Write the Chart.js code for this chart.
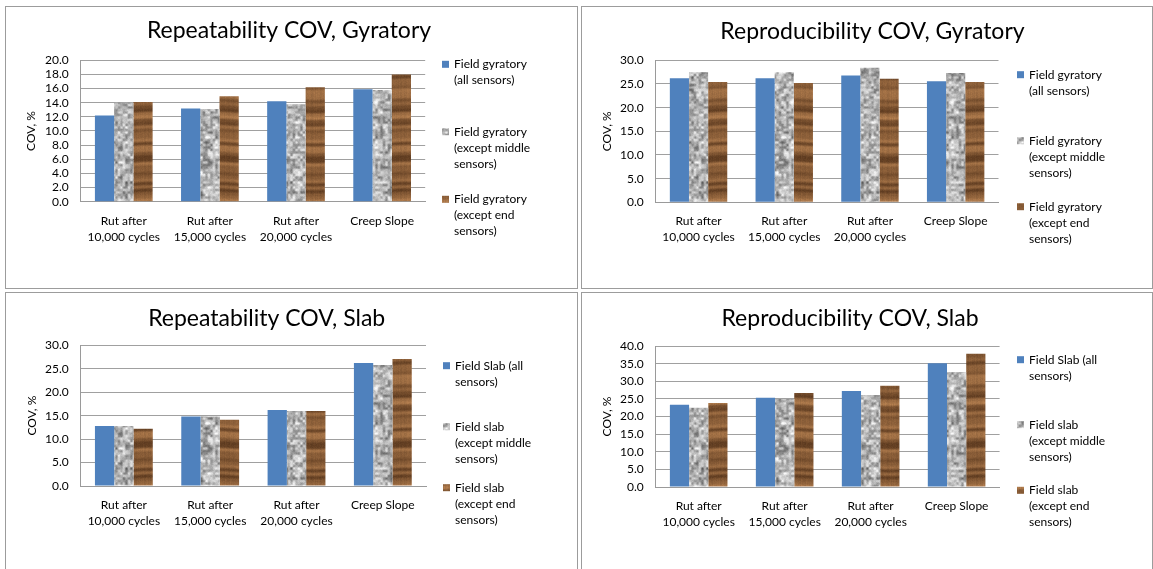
<!DOCTYPE html>
<html>
<head>
<meta charset="utf-8">
<script src="https://cdn.jsdelivr.net/npm/chart.js@4"></script>
<style>
  html, body { margin: 0; padding: 0; background: #fff; overflow: hidden; }
  body { width: 1153px; height: 569px; position: relative; }
  .panel { position: absolute; border: 1px solid #9c9c9c; background: #fff; }
  .panel canvas { position: absolute; left: 0; top: 0; }
</style>
</head>
<body>
<script>
const CATEGORIES = [
  ["Rut after", "10,000 cycles"],
  ["Rut after", "15,000 cycles"],
  ["Rut after", "20,000 cycles"],
  "Creep Slope",
];

const GYRATORY_LABELS = [
  ["Field gyratory", "(all sensors)"],
  ["Field gyratory", "(except middle", "sensors)"],
  ["Field gyratory", "(except end", "sensors)"],
];
const SLAB_LABELS = [
  ["Field Slab (all", "sensors)"],
  ["Field slab", "(except middle", "sensors)"],
  ["Field slab", "(except end", "sensors)"],
];

// COV values, %
const REPEAT_GYR_ALL = [12.2, 13.2, 14.2, 15.9];
const REPEAT_GYR_NO_MIDDLE = [14.0, 13.1, 13.8, 15.8];
const REPEAT_GYR_NO_END = [14.1, 14.9, 16.2, 18.0];

const REPRO_GYR_ALL = [26.2, 26.2, 26.8, 25.6];
const REPRO_GYR_NO_MIDDLE = [27.5, 27.5, 28.4, 27.3];
const REPRO_GYR_NO_END = [25.4, 25.2, 26.1, 25.4];

const REPEAT_SLAB_ALL = [12.8, 14.8, 16.2, 26.2];
const REPEAT_SLAB_NO_MIDDLE = [12.8, 14.8, 16.0, 25.8];
const REPEAT_SLAB_NO_END = [12.2, 14.1, 16.0, 27.1];

const REPRO_SLAB_ALL = [23.3, 25.3, 27.2, 35.1];
const REPRO_SLAB_NO_MIDDLE = [22.5, 25.0, 26.1, 32.6];
const REPRO_SLAB_NO_END = [23.8, 26.7, 28.7, 37.8];

const Y_TICKS_REPEAT_GYR = { max: 20, step: 2 };
const Y_TICKS_REPRO_GYR = { max: 30, step: 5 };
const Y_TICKS_REPEAT_SLAB = { max: 30, step: 5 };
const Y_TICKS_REPRO_SLAB = { max: 40, step: 5 };

const FONT = "Lato, 'Liberation Sans', sans-serif";
const BLUE = "#4f81bd";

// page layout: panel boxes, plot rects, title and legend anchors (page px)
const PANELS = [
  {
    title: "Repeatability COV, Gyratory",
    series: [REPEAT_GYR_ALL, REPEAT_GYR_NO_MIDDLE, REPEAT_GYR_NO_END],
    labels: GYRATORY_LABELS, ticks: Y_TICKS_REPEAT_GYR,
    box: { x: 5, y: 6, w: 571, h: 281 },
    plot: { l: 80.7, r: 425.2, t: 60.3, b: 201.7 },
    titleX: 289, titleY: 38, axisTitleX: 31,
    legendX: 442, legendY: [64.3, 131.7, 199.3],
  },
  {
    title: "Reproducibility COV, Gyratory",
    series: [REPRO_GYR_ALL, REPRO_GYR_NO_MIDDLE, REPRO_GYR_NO_END],
    labels: GYRATORY_LABELS, ticks: Y_TICKS_REPRO_GYR,
    box: { x: 581, y: 6, w: 570, h: 281 },
    plot: { l: 655.7, r: 998.5, t: 60.3, b: 202.3 },
    titleX: 872.5, titleY: 39, axisTitleX: 607.4,
    legendX: 1017, legendY: [74.7, 140.7, 206.7],
  },
  {
    title: "Repeatability COV, Slab",
    series: [REPEAT_SLAB_ALL, REPEAT_SLAB_NO_MIDDLE, REPEAT_SLAB_NO_END],
    labels: SLAB_LABELS, ticks: Y_TICKS_REPEAT_SLAB,
    box: { x: 5, y: 292, w: 571, h: 290 },
    plot: { l: 80.7, r: 426, t: 345.3, b: 486 },
    titleX: 266.7, titleY: 326, axisTitleX: 32.6,
    legendX: 443, legendY: [365.7, 426.7, 487.7],
  },
  {
    title: "Reproducibility COV, Slab",
    series: [REPRO_SLAB_ALL, REPRO_SLAB_NO_MIDDLE, REPRO_SLAB_NO_END],
    labels: SLAB_LABELS, ticks: Y_TICKS_REPRO_SLAB,
    box: { x: 581, y: 292, w: 570, h: 290 },
    plot: { l: 655.7, r: 999.6, t: 346, b: 487 },
    titleX: 850, titleY: 326, axisTitleX: 607,
    legendX: 1017, legendY: [359.7, 424.7, 490.3],
  },
];

function mulberry32(a) {
  return function () {
    a |= 0; a = (a + 0x6d2b79f5) | 0;
    let t = Math.imul(a ^ (a >>> 15), 1 | a);
    t = (t + Math.imul(t ^ (t >>> 7), 61 | t)) ^ t;
    return ((t ^ (t >>> 14)) >>> 0) / 4294967296;
  };
}

// smooth value noise on a wrapping n x n lattice
function wrapNoise(n, rnd) {
  const grid = Array.from({ length: n * n }, () => rnd());
  const at = (i, j) => grid[(((j % n) + n) % n) * n + (((i % n) + n) % n)];
  const ease = (f) => f * f * (3 - 2 * f);
  return (u, v) => {
    const i = Math.floor(u), j = Math.floor(v);
    const fx = ease(u - i), fy = ease(v - j);
    const top = at(i, j) + (at(i + 1, j) - at(i, j)) * fx;
    const bot = at(i, j + 1) + (at(i + 1, j + 1) - at(i, j + 1)) * fx;
    return top + (bot - top) * fy;
  };
}

// mottled grey "granite" fill
function makeGraniteTexture() {
  const rnd = mulberry32(7);
  const size = 160;
  const fine = wrapNoise(64, rnd), coarse = wrapNoise(32, rnd);
  const c = document.createElement("canvas");
  c.width = c.height = size;
  const g = c.getContext("2d");
  const img = g.createImageData(size, size);
  for (let y = 0; y < size; y++) {
    for (let x = 0; x < size; x++) {
      const v = 0.65 * fine((x * 64) / size, (y * 64) / size) + 0.35 * coarse((x * 32) / size, (y * 32) / size);
      const gray = Math.min(250, Math.max(90, 95 + v * 165 + (rnd() - 0.5) * 14));
      const p = (y * size + x) * 4;
      img.data[p] = img.data[p + 1] = img.data[p + 2] = gray;
      img.data[p + 3] = 255;
    }
  }
  g.putImageData(img, 0, 0);
  return c;
}

// horizontal brown wood grain
function makeWoodTexture() {
  const rnd = mulberry32(11);
  const w = 64, h = 200;
  const n = 60;
  const ctrl = Array.from({ length: n }, () => rnd());
  const cols = Array.from({ length: w }, () => 1 + (rnd() - 0.5) * 0.08);
  const c = document.createElement("canvas");
  c.width = w; c.height = h;
  const g = c.getContext("2d");
  const img = g.createImageData(w, h);
  const dark = [80, 48, 24], light = [190, 135, 85];
  for (let y = 0; y < h; y++) {
    for (let x = 0; x < w; x++) {
      const yy = (y + 0.8 * Math.sin(x / 11)) / (h / n);
      const i0 = Math.floor(yy), f = yy - i0;
      const a = ctrl[((i0 % n) + n) % n], b = ctrl[(((i0 + 1) % n) + n) % n];
      const s = f * f * (3 - 2 * f);
      let t = a + (b - a) * s;
      t = Math.min(1, Math.max(0, 0.15 + t * 0.7 + (rnd() - 0.5) * 0.1));
      const p = (y * w + x) * 4;
      for (let k = 0; k < 3; k++) img.data[p + k] = (dark[k] + (light[k] - dark[k]) * t) * cols[x];
      img.data[p + 3] = 255;
    }
  }
  g.putImageData(img, 0, 0);
  return c;
}

const GRANITE = makeGraniteTexture();
const WOOD = makeWoodTexture();

// title and multi-line legend drawn beside the plot
const panelDecor = {
  id: "panelDecor",
  afterDraw(chart, args, opts) {
    const ctx = chart.ctx;
    ctx.save();
    ctx.fillStyle = "#000";
    ctx.font = `23px ${FONT}`;
    ctx.textAlign = "center";
    ctx.textBaseline = "alphabetic";
    ctx.fillText(opts.title, opts.titleX, opts.titleY);

    ctx.font = `12px ${FONT}`;
    ctx.textAlign = "left";
    ctx.textBaseline = "middle";
    chart.data.datasets.forEach((ds, i) => {
      const y0 = opts.legendY[i];
      ctx.fillStyle = ds.backgroundColor;
      ctx.fillRect(opts.legendX, y0 - 3.5, 7, 7);
      ctx.fillStyle = "#000";
      ds.legendLines.forEach((line, j) => {
        ctx.fillText(line, opts.legendX + 12, y0 + j * 16);
      });
    });
    ctx.restore();
  },
};

function buildPanel(p) {
  const div = document.createElement("div");
  div.className = "panel";
  Object.assign(div.style, {
    left: `${p.box.x}px`, top: `${p.box.y}px`,
    width: `${p.box.w}px`, height: `${p.box.h}px`,
  });
  const canvas = document.createElement("canvas");
  canvas.width = p.box.w;
  canvas.height = p.box.h;
  div.appendChild(canvas);
  document.body.appendChild(div);

  const ox = p.box.x + 1, oy = p.box.y + 1;
  const left = p.plot.l - ox, right = p.plot.r - ox;
  const top = p.plot.t - oy, bottom = p.plot.b - oy;

  const ctx = canvas.getContext("2d");
  const fills = [BLUE, ctx.createPattern(GRANITE, "repeat"), ctx.createPattern(WOOD, "repeat")];

  return new Chart(canvas, {
    type: "bar",
    data: {
      labels: CATEGORIES,
      datasets: p.series.map((values, i) => ({
        data: values,
        backgroundColor: fills[i],
        borderWidth: 0,
        barPercentage: 1,
        categoryPercentage: 0.67,
        legendLines: p.labels[i],
      })),
    },
    options: {
      responsive: false,
      animation: false,
      devicePixelRatio: 1,
      layout: { padding: { left: 0, top, right: p.box.w - right, bottom: 0 } },
      plugins: {
        legend: { display: false },
        title: { display: false },
        tooltip: { enabled: false },
        panelDecor: {
          title: p.title,
          titleX: p.titleX - ox,
          titleY: p.titleY - oy,
          legendX: p.legendX - ox,
          legendY: p.legendY.map((y) => y - oy),
        },
      },
      scales: {
        x: {
          grid: { display: false, drawTicks: false },
          border: { display: true, color: "#9a9a9a", width: 1 },
          ticks: { color: "#000", font: { family: FONT, size: 12, lineHeight: 16 / 12 }, padding: 11, maxRotation: 0, autoSkip: false },
          afterFit: (s) => { s.height = p.box.h - bottom; },
        },
        y: {
          min: 0,
          max: p.ticks.max,
          ticks: {
            stepSize: p.ticks.step,
            autoSkip: false,
            color: "#000",
            padding: 12,
            font: { family: FONT, size: 12 },
            callback: (v) => Number(v).toFixed(1),
          },
          grid: { color: "#a0a0a0", lineWidth: 1, drawTicks: false },
          border: { display: true, color: "#9a9a9a", width: 1 },
          title: {
            display: true,
            text: "COV, %",
            color: "#000",
            font: { family: FONT, size: 12 },
            padding: { top: p.axisTitleX - ox - 7.2, bottom: 0 },
          },
          afterFit: (s) => { s.width = left; },
        },
      },
    },
    plugins: [panelDecor],
  });
}

PANELS.forEach(buildPanel);
</script>
</body>
</html>
